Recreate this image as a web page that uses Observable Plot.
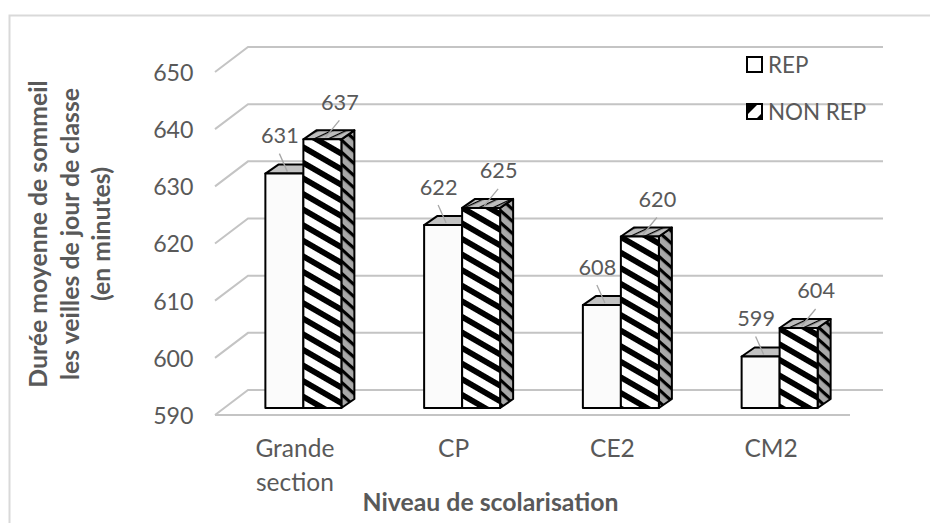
<!DOCTYPE html>
<html>
<head>
<meta charset="utf-8">
<script src="https://cdn.jsdelivr.net/npm/d3@7"></script>
<script src="https://cdn.jsdelivr.net/npm/@observablehq/plot@0.6"></script>
<style>
  html, body { margin: 0; padding: 0; background: #fff; }
  #chart { width: 930px; height: 523px; overflow: hidden; }
</style>
</head>
<body>
<div id="chart"></div>
<script>
// Mean sleep duration on school nights, by school level (REP vs NON REP)
const categories = ["Grande\nsection", "CP", "CE2", "CM2"];
const series = ["REP", "NON REP"];
const rep = [631, 622, 608, 599];
const nonRep = [637, 625, 620, 604];
const yTicks = [590, 600, 610, 620, 630, 640, 650];
const yTitle = "Durée moyenne de sommeil\nles veilles de jour de classe\n(en minutes)";
const xTitle = "Niveau de scolarisation";

const rows = [];
categories.forEach((c, i) => {
  rows.push({cat: c, pos: i + 0.5, s: 0, series: series[0], value: rep[i]});
  rows.push({cat: c, pos: i + 0.5, s: 1, series: series[1], value: nonRep[i]});
});

// Pseudo-3D geometry (pixels)
const WALL = [33, -25];   // depth of the back wall
const FACE = [9, -7];     // bar front plane, behind the front edge
const DEPTH = [13, -9];   // bar thickness
const BAR_W = 38;
const LABEL = [[-15, -45], [45, -44]]; // value label offsets per series
const TEXT = "#595959";
const FONT = "Lato, 'Open Sans', sans-serif";

// Walls, floor, boxes, leader lines and legend, placed with the plot's scales
function scene(index, scales) {
  const x = scales.x, y = scales.y;
  const g = d3.create("svg:g");
  const defs = g.append("defs");
  function stripes(id, bg, period, thick, angle) {
    const p = defs.append("pattern").attr("id", id)
      .attr("patternUnits", "userSpaceOnUse")
      .attr("width", period).attr("height", period)
      .attr("patternTransform", `rotate(${angle})`);
    p.append("rect").attr("width", period).attr("height", period).attr("fill", bg);
    p.append("rect").attr("width", period).attr("height", thick).attr("fill", "#000");
  }
  stripes("hatchFront", "#ffffff", 13.5, 5.8, 30);
  stripes("hatchSide", "#a8a8a8", 9, 3.2, 42);
  stripes("hatchTop", "#bdbdbd", 6, 1.3, -25);

  const [x0, x1] = x.range();
  const grid = g.append("g").attr("fill", "none")
    .attr("stroke", "#c4c4c4").attr("stroke-width", 2);
  for (const t of yTicks) {
    const yy = y(t);
    grid.append("path").attr("d",
      `M${x0},${yy}L${x0 + WALL[0]},${yy + WALL[1]}H${x1 + WALL[0]}`);
  }
  grid.append("path").attr("d", `M${x0},${y(yTicks[0])}H${x1}`);

  const base = y(yTicks[0]) + FACE[1];
  const [dx, dy] = DEPTH;
  for (const r of rows) {
    const left = x(r.pos) + FACE[0] + (r.s === 0 ? -BAR_W : 0);
    const right = left + BAR_W;
    const top = y(r.value) + FACE[1];
    const b = g.append("g").attr("stroke", "#000").attr("stroke-width", 2)
      .attr("stroke-linejoin", "round");
    b.append("path")
      .attr("d", `M${right},${top}L${right + dx},${top + dy}V${base + dy}L${right},${base}Z`)
      .attr("fill", r.s ? "url(#hatchSide)" : "#d0d0d0");
    b.append("path")
      .attr("d", `M${left},${top}L${left + dx},${top + dy}H${right + dx}L${right},${top}Z`)
      .attr("fill", r.s ? "url(#hatchTop)" : "#c2c2c2");
    b.append("rect").attr("x", left).attr("y", top)
      .attr("width", BAR_W).attr("height", base - top)
      .attr("fill", r.s ? "url(#hatchFront)" : "#fbfbfb");
    // leader from the value label to the top of the box
    const cx = left + BAR_W / 2;
    const [lx, ly] = LABEL[r.s];
    g.append("line")
      .attr("x1", x(r.pos) + lx).attr("y1", y(r.value) + ly + 18)
      .attr("x2", cx + 3).attr("y2", top - 2)
      .attr("stroke", "#a6a6a6").attr("stroke-width", 1.3);
  }

  // legend
  const lg = g.append("g").attr("font-family", FONT).attr("font-size", 22.4)
    .attr("fill", TEXT).attr("text-anchor", "start");
  const keys = [[747, 57], [747, 104]];
  series.forEach((name, i) => {
    const [kx, ky] = keys[i];
    lg.append("rect").attr("x", kx).attr("y", ky).attr("width", 15).attr("height", 15)
      .attr("fill", "#fff").attr("stroke", "#000").attr("stroke-width", 2);
    if (i === 1) {
      lg.append("path").attr("d", `M${kx},${ky}H${kx + 11}L${kx},${ky + 11}Z`).attr("fill", "#000");
      lg.append("path").attr("d", `M${kx + 15},${ky + 9}V${ky + 15}H${kx + 9}Z`).attr("fill", "#000");
    }
    lg.append("text").attr("x", kx + 21).attr("y", ky + 7.5)
      .attr("dy", "0.36em").text(name);
  });
  return g.node();
}

const chart = Plot.plot({
  width: 930,
  height: 523,
  margin: 0,
  style: {fontFamily: FONT, color: TEXT, background: "#fff"},
  x: {type: "linear", domain: [0, categories.length], range: [215, 850], axis: null},
  y: {domain: [590, 650], range: [415, 72], axis: null},
  marks: [
    Plot.frame({stroke: "#d9d9d9", strokeWidth: 2, insetLeft: 9, insetTop: 15, insetRight: -4, insetBottom: -4}),
    scene,
    Plot.text(yTicks, {y: d => d, text: d => String(d), frameAnchor: "left", dx: 193, dy: 1,
      textAnchor: "end", fontSize: 23.2, fill: TEXT}),
    Plot.text(categories, {x: (d, i) => i + 0.5, text: d => d, frameAnchor: "bottom", dy: -91,
      lineAnchor: "top", lineHeight: 1.4, fontSize: 24.5, fill: TEXT}),
    Plot.text([xTitle], {text: d => d, frameAnchor: "bottom", dx: 25, dy: -20,
      lineAnchor: "middle", fontSize: 24.8, fontWeight: "bold", fill: TEXT}),
    Plot.text([yTitle], {text: d => d, frameAnchor: "left", dx: 68, dy: -28, rotate: -90,
      textAnchor: "middle", lineAnchor: "middle", lineHeight: 1.27, fontSize: 24.8,
      fontWeight: "bold", fill: TEXT}),
    Plot.text(rows.filter(r => r.s === 0), {x: "pos", y: "value", text: "value",
      dx: LABEL[0][0], dy: LABEL[0][1], fontSize: 21.7, fill: TEXT}),
    Plot.text(rows.filter(r => r.s === 1), {x: "pos", y: "value", text: "value",
      dx: LABEL[1][0], dy: LABEL[1][1], fontSize: 21.7, fill: TEXT})
  ]
});
document.getElementById("chart").append(chart);
</script>
</body>
</html>
